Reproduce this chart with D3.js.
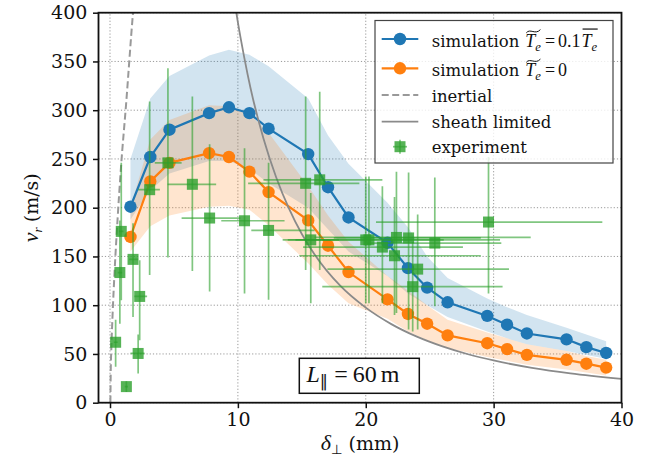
<!DOCTYPE html>
<html>
<head>
<meta charset="utf-8">
<script src="https://cdn.jsdelivr.net/npm/d3@7"></script>
<style>
  body { margin: 0; background: #fff; }
  svg { display: block; }
</style>
</head>
<body>
<div id="chart"></div>
<script>
// Simulation points (delta_perp in mm, v_r in m/s)
const simX = [1.6, 3.15, 4.65, 7.75, 9.3, 10.9, 12.4, 15.5, 17.05, 18.65, 21.7, 23.3, 24.8, 26.4, 29.5, 31.05, 32.6, 35.7, 37.25, 38.8];
const simHot = [201, 252, 280, 297, 303, 297, 281, 255, 221, 190, 164, 138, 118, 103, 89, 80, 71, 65, 57, 51];
const simCold = [170, 227, 246, 256, 252, 237, 216, 187, 161, 134, 106, 91, 81, 69, 61, 55, 49, 44, 40, 36];

// Shaded spread around each simulation
const hotHi = [250, 312, 335, 356, 362, 357, 345, 312, 274, 245, 205, 180, 150, 128, 107, 98, 90, 77, 70, 63];
const hotLo = [188, 218, 235, 248, 248, 240, 225, 200, 178, 155, 130, 112, 100, 88, 73, 66, 60, 53, 49, 45];
const coldHi = [200, 270, 290, 305, 304, 296, 277, 222, 192, 165, 130, 115, 100, 85, 72, 66, 60, 53, 48, 44];
const coldLo = [155, 181, 192, 201, 202, 198, 182, 143, 121, 102, 86, 73, 64, 56, 47, 43, 39, 34, 31, 28];

// Experiment with error bars
const expX = [0.44, 1.28, 2.2, 2.32, 1.8, 0.77, 0.88, 3.1, 4.53, 6.44, 7.79, 10.52, 12.4, 15.3, 16.4, 15.7, 20.0, 20.25, 21.3, 22.4, 23.35, 22.25, 24.06, 23.67, 25.4, 29.6];
const expY = [62, 16.5, 50.5, 109, 147, 133.5, 175.7, 218.5, 246, 224, 189.4, 186.6, 176.7, 225, 228.6, 167, 167, 167, 159.6, 169.5, 169, 150.7, 137, 119, 163.7, 185.3];
const expXLo = [0.3, 1.15, 1.6, 1.9, 1.5, 0.6, 0.7, 2.2, 3.5, 4.5, 5.6, 8.7, 11.05, 10.8, 12.0, 13.5, 13.9, 14.5, 15.1, 16.0, 17.5, 14.8, 17.0, 16.6, 20.1, 20.8];
const expXHi = [0.6, 1.4, 2.7, 2.9, 2.2, 0.95, 1.05, 3.9, 5.6, 8.3, 10.2, 13.65, 16.0, 19.5, 21.3, 17.9, 26.1, 30.5, 27.6, 32.9, 29.0, 29.0, 31.2, 30.7, 30.6, 38.5];
const expYLo = [37, 11, 30, 64, 88, 81, 105, 131, 149, 135, 114, 112, 105.5, 136, 136, 102, 102, 102, 102, 92, 75, 90, 75, 73, 99, 112];
const expYHi = [85, 22, 70, 146, 184, 187, 246, 309, 343, 314, 265, 261, 246, 314, 319, 215, 232, 232, 222, 237, 236, 211, 193, 165, 231, 252];

// Model curves
const inertialX = [0.03, 0.06, 0.1, 0.2, 0.36, 0.6, 0.85, 1.25, 1.8, 1.9];
const inertialY = [0, 35, 54, 90, 135, 190, 240, 305, 400, 415];
const sheathX = [9.6, 10, 10.5, 11, 12, 13, 14, 15, 16, 18, 20, 22, 24, 26, 28, 30, 33, 36, 40];
const sheathY = [423, 390, 354, 322, 271, 231, 199, 173, 152, 120, 97.5, 80.6, 67.7, 57.7, 49.7, 43.3, 35.8, 30.1, 24.4];

// Ticks
const xTicks = [0, 10, 20, 30, 40];
const yTicks = [0, 50, 100, 150, 200, 250, 300, 350, 400];

const width = 646, height = 456;
const margin = { top: 12.7, right: 24.5, bottom: 53.3, left: 98.5 };

const blue = "#1f77b4", orange = "#ff7f0e", green = "#2ca02c";

const svg = d3.select("#chart")
    .append("svg")
    .attr("width", width)
    .attr("height", height);

// Is DejaVu Serif really there? If not, fall back to Liberation Serif, a bit larger
function textWidth(str, family) {
    const t = svg.append("text").style("font-family", family).style("font-size", "100px").text(str);
    const w = t.node().getComputedTextLength();
    t.remove();
    return w;
}
const hasDejaVuSerif = textWidth("iiiiiiiiii", "'DejaVu Serif', monospace") !== textWidth("iiiiiiiiii", "monospace");
const rmFont = hasDejaVuSerif ? "'DejaVu Serif'" : "'Liberation Serif', serif";
const rmScale = hasDejaVuSerif ? 1 : 1.13;

const x = d3.scaleLinear().domain([-0.9, 40]).range([margin.left, width - margin.right]);
const y = d3.scaleLinear().domain([0, 400]).range([height - margin.bottom, margin.top]);

svg.append("clipPath").attr("id", "plotclip")
    .append("rect")
    .attr("x", margin.left).attr("y", margin.top)
    .attr("width", width - margin.left - margin.right)
    .attr("height", height - margin.top - margin.bottom);

// Dotted grid
svg.append("g").selectAll("line")
    .data(xTicks).enter().append("line")
    .attr("x1", d => x(d)).attr("x2", d => x(d))
    .attr("y1", y(0)).attr("y2", y(400))
    .attr("stroke", "#999").attr("stroke-width", 1).attr("stroke-dasharray", "1.2,2");
svg.append("g").selectAll("line")
    .data(yTicks).enter().append("line")
    .attr("x1", x(-0.9)).attr("x2", x(40))
    .attr("y1", d => y(d)).attr("y2", d => y(d))
    .attr("stroke", "#999").attr("stroke-width", 1).attr("stroke-dasharray", "1.2,2");

const plot = svg.append("g").attr("clip-path", "url(#plotclip)");

// Bands
const area = d3.area().x(d => x(d.x)).y0(d => y(d.lo)).y1(d => y(d.hi));
plot.append("path")
    .datum(simX.map((v, i) => ({ x: v, lo: hotLo[i], hi: hotHi[i] })))
    .attr("d", area).attr("fill", blue).attr("fill-opacity", 0.2);
plot.append("path")
    .datum(simX.map((v, i) => ({ x: v, lo: coldLo[i], hi: coldHi[i] })))
    .attr("d", area).attr("fill", orange).attr("fill-opacity", 0.2);

// Simulation lines
const line = d3.line().x(d => x(d[0])).y(d => y(d[1]));
[[simHot, blue], [simCold, orange]].forEach(([vals, col]) => {
    const pts = simX.map((v, i) => [v, vals[i]]);
    plot.append("path").datum(pts).attr("d", line)
        .attr("fill", "none").attr("stroke", col).attr("stroke-width", 2.2);
    plot.selectAll(null).data(pts).enter().append("circle")
        .attr("cx", d => x(d[0])).attr("cy", d => y(d[1]))
        .attr("r", 6.2).attr("fill", col);
});

// Inertial and sheath limited
const smooth = d3.line().x(d => x(d[0])).y(d => y(d[1])).curve(d3.curveMonotoneX);
plot.append("path").datum(inertialX.map((v, i) => [v, inertialY[i]]))
    .attr("d", smooth).attr("fill", "none")
    .attr("stroke", "#999").attr("stroke-width", 2).attr("stroke-dasharray", "7,3.5");
plot.append("path").datum(sheathX.map((v, i) => [v, sheathY[i]]))
    .attr("d", smooth).attr("fill", "none")
    .attr("stroke", "#8a8a8a").attr("stroke-width", 1.8);

// Experiment
const exp = expX.map((v, i) => ({ x: v, y: expY[i], xl: expXLo[i], xh: expXHi[i], yl: expYLo[i], yh: expYHi[i] }));
const eb = plot.append("g").attr("stroke", green).attr("stroke-opacity", 0.6).attr("stroke-width", 1.7);
eb.selectAll(null).data(exp).enter().append("line")
    .attr("x1", d => x(d.xl)).attr("x2", d => x(d.xh))
    .attr("y1", d => y(d.y)).attr("y2", d => y(d.y));
eb.selectAll(null).data(exp).enter().append("line")
    .attr("x1", d => x(d.x)).attr("x2", d => x(d.x))
    .attr("y1", d => y(d.yl)).attr("y2", d => y(d.yh));
plot.selectAll(".sq").data(exp).enter().append("rect")
    .attr("class", "sq")
    .attr("x", d => x(d.x) - 5.5).attr("y", d => y(d.y) - 5.5)
    .attr("width", 11).attr("height", 11)
    .attr("fill", green).attr("fill-opacity", 0.8);

// Axes
const xAxis = svg.append("g")
    .attr("transform", `translate(0,${y(0)})`)
    .call(d3.axisBottom(x).tickValues(xTicks).tickSize(5.5).tickPadding(4.5));
const yAxis = svg.append("g")
    .attr("transform", `translate(${x(-0.9)},0)`)
    .call(d3.axisLeft(y).tickValues(yTicks).tickSize(5.5).tickPadding(5.7));
[xAxis, yAxis].forEach(a => {
    a.select(".domain").remove();
    a.attr("font-family", null).attr("font-size", null);
    a.selectAll(".tick line").attr("stroke", "#111").attr("stroke-width", 1.5);
    a.selectAll(".tick text").style("font-family", rmFont).style("font-size", (19 * rmScale) + "px").attr("fill", "#111");
});

// Spines
svg.append("rect")
    .attr("x", x(-0.9)).attr("y", y(400))
    .attr("width", x(40) - x(-0.9)).attr("height", y(0) - y(400))
    .attr("fill", "none").attr("stroke", "#111").attr("stroke-width", 1.8);

// Helper for small math-like labels
function mathText(parent, x0, y0, parts, size) {
    const g = parent.append("g");
    let cx = x0;
    function accent(kind, a, b) {
        if (kind === "tilde") {
            const yy = y0 - size * 0.86, w = b - a, h = size * 0.09;
            g.append("path")
                .attr("d", `M${a + 1},${yy + h} C${a + w * 0.3},${yy - h * 2} ${a + w * 0.65},${yy + h * 2.5} ${b - 0.5},${yy - h}`)
                .attr("fill", "none").attr("stroke", "#111").attr("stroke-width", 1);
        } else if (kind === "bar") {
            g.append("line")
                .attr("x1", a + 1).attr("x2", b + 0.5)
                .attr("y1", y0 - size * 0.98).attr("y2", y0 - size * 0.98)
                .attr("stroke", "#111").attr("stroke-width", 1.2);
        }
    }
    function run(list) {
        list.forEach(p => {
            if (p.group) {
                const a = cx;
                run(p.group);
                accent(p.acc, a, cx);
                return;
            }
            const fs = p.rm ? (p.size || size) * rmScale : (p.size || (p.sub ? size * 0.7 : size));
            const t = g.append("text")
                .attr("x", cx + (p.dx || 0))
                .attr("y", y0 + (p.sub ? size * 0.22 : 0))
                .style("font-family", p.rm ? rmFont : (p.font || "'Liberation Serif', serif"))
                .style("font-style", p.it ? "italic" : "normal")
                .style("font-size", fs + "px")
                .attr("fill", "#111")
                .text(p.s);
            cx += (p.dx || 0) + t.node().getComputedTextLength() + (p.gap || 0);
        });
    }
    run(parts);
    return { g: g, width: cx - x0 };
}

// Axis labels
const yl = svg.append("g").attr("transform", `translate(38,${(y(0) + y(400)) / 2}) rotate(-90)`);
const ylm = mathText(yl, 0, 0, [
    { s: "v", it: true, size: 22 },
    { s: "r", it: true, sub: true, gap: 5 },
    { s: "(m/s)", rm: true }
], 19);
ylm.g.attr("transform", `translate(${-ylm.width / 2},0)`);

const xl = svg.append("g").attr("transform", `translate(${(x(-0.9) + x(40)) / 2},450)`);
const xlm = mathText(xl, 0, 0, [
    { s: "δ", it: true, size: 22 },
    { s: "⊥", sub: true, font: "'DejaVu Sans', sans-serif", gap: 6 },
    { s: "(mm)", rm: true }
], 19);
xlm.g.attr("transform", `translate(${-xlm.width / 2},0)`);

// L_par box
svg.append("rect")
    .attr("x", 299.3).attr("y", 358.3).attr("width", 120).attr("height", 35)
    .attr("fill", "#fff").attr("stroke", "#111").attr("stroke-width", 1.5);
mathText(svg, 306.5, 382, [
    { s: "L", it: true },
    { s: "∥", sub: true, font: "'DejaVu Sans', sans-serif", gap: 6 },
    { s: "=", gap: 5 },
    { s: "60", gap: 4 },
    { s: "m" }
], 24);

// Legend
const lg = svg.append("g");
lg.append("rect")
    .attr("x", 375).attr("y", 20.5).attr("width", 238).attr("height", 142.5)
    .attr("fill", "#fff").attr("fill-opacity", 0.8)
    .attr("stroke", "#444").attr("stroke-width", 1.2);

const hx0 = 381.7, hx1 = 418.3, hxm = 400, tx = 431.7;
const rows = [39, 68.3, 95, 121.7, 146.7];
const bases = [46.7, 76.2, 102.3, 127.7, 153.3];

[[blue, rows[0]], [orange, rows[1]]].forEach(([col, ry]) => {
    lg.append("line").attr("x1", hx0).attr("x2", hx1).attr("y1", ry).attr("y2", ry)
        .attr("stroke", col).attr("stroke-width", 2.2);
    lg.append("circle").attr("cx", hxm).attr("cy", ry).attr("r", 6.2).attr("fill", col);
});
lg.append("line").attr("x1", hx0).attr("x2", hx1).attr("y1", rows[2]).attr("y2", rows[2])
    .attr("stroke", "#999").attr("stroke-width", 2).attr("stroke-dasharray", "7,3.5");
lg.append("line").attr("x1", hx0).attr("x2", hx1).attr("y1", rows[3]).attr("y2", rows[3])
    .attr("stroke", "#8a8a8a").attr("stroke-width", 1.8);
lg.append("line").attr("x1", hxm - 7).attr("x2", hxm + 7).attr("y1", rows[4]).attr("y2", rows[4])
    .attr("stroke", green).attr("stroke-opacity", 0.6).attr("stroke-width", 1.7);
lg.append("line").attr("x1", hxm).attr("x2", hxm).attr("y1", rows[4] - 7).attr("y2", rows[4] + 7)
    .attr("stroke", green).attr("stroke-opacity", 0.6).attr("stroke-width", 1.7);
lg.append("rect").attr("x", hxm - 5.5).attr("y", rows[4] - 5.5).attr("width", 11).attr("height", 11)
    .attr("fill", green).attr("fill-opacity", 0.8);

const lfs = 16.5, mfs = 18;
mathText(lg, tx, bases[0], [
    { s: "simulation", rm: true, size: lfs, gap: 6 },
    { group: [{ s: "T", it: true }, { s: "e", it: true, sub: true }], acc: "tilde" },
    { s: "=", dx: 4, gap: 3 },
    { s: "0.1", gap: 1 },
    { group: [{ s: "T", it: true }, { s: "e", it: true, sub: true }], acc: "bar" }
], mfs);
mathText(lg, tx, bases[1], [
    { s: "simulation", rm: true, size: lfs, gap: 6 },
    { group: [{ s: "T", it: true }, { s: "e", it: true, sub: true }], acc: "tilde" },
    { s: "=", dx: 4, gap: 3 },
    { s: "0" }
], mfs);
["inertial", "sheath limited", "experiment"].forEach((t, i) => {
    lg.append("text").attr("x", tx).attr("y", bases[i + 2])
        .style("font-family", rmFont).style("font-size", (lfs * rmScale) + "px")
        .attr("fill", "#111").text(t);
});
</script>
</body>
</html>
